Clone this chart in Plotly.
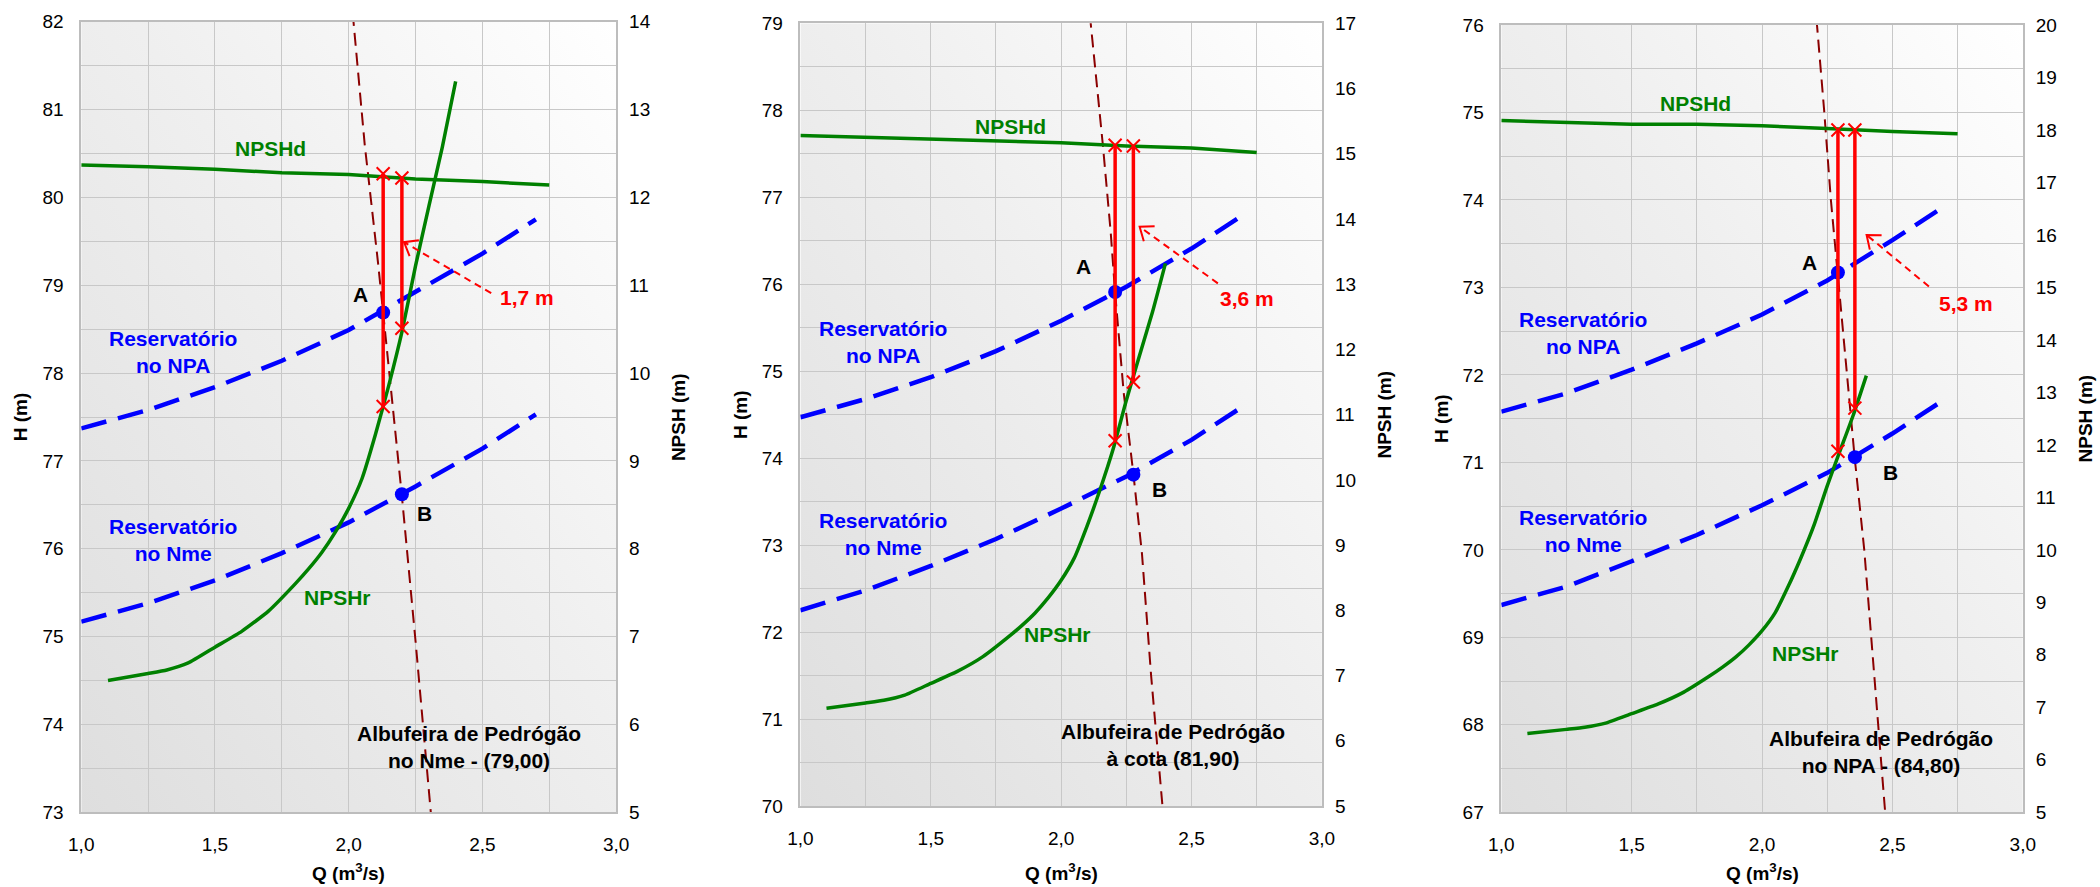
import base64
import math
import plotly.graph_objects as go

# ---------------- data ----------------
# system curves H(Q) on the left axis, Q in m3/s
q_sys = [1.0, 1.25, 1.5, 1.75, 2.0, 2.25, 2.5, 2.7]
h_npa_p1 = [77.37, 77.58, 77.84, 78.14, 78.49, 78.92, 79.36, 79.75]
h_nme_p1 = [75.17, 75.38, 75.64, 75.95, 76.30, 76.71, 77.14, 77.53]
h_npa_p2 = [74.47, 74.68, 74.93, 75.23, 75.58, 75.97, 76.41, 76.80]
h_nme_p2 = [72.25, 72.48, 72.76, 73.07, 73.42, 73.79, 74.21, 74.60]
h_npa_p3 = [71.58, 71.79, 72.06, 72.36, 72.69, 73.08, 73.54, 73.93]
h_nme_p3 = [69.37, 69.58, 69.87, 70.17, 70.51, 70.88, 71.33, 71.72]

# available NPSH (right axis)
q_npshd = [1.0, 1.25, 1.5, 1.75, 2.0, 2.25, 2.5, 2.75]
npshd_p1 = [12.37, 12.35, 12.32, 12.28, 12.26, 12.21, 12.18, 12.14]
npshd_p2 = [15.28, 15.25, 15.22, 15.20, 15.17, 15.12, 15.09, 15.02]
npshd_p3 = [18.18, 18.14, 18.11, 18.11, 18.08, 18.03, 17.97, 17.93]

# required NPSH of the pump (same in the three charts)
q_npshr = [1.10, 1.25, 1.32, 1.40, 1.50, 1.60, 1.70, 1.80, 1.85, 1.90, 1.95, 2.00,
           2.05, 2.10, 2.15, 2.20, 2.25, 2.30, 2.35, 2.40]
npshr = [6.50, 6.58, 6.62, 6.70, 6.88, 7.06, 7.29, 7.60, 7.77, 7.96, 8.19, 8.46,
         8.80, 9.30, 9.86, 10.48, 11.22, 11.90, 12.57, 13.32]

# pump curve (dark red dashed), left axis
q_pump_p1 = [2.015, 2.06, 2.11, 2.129, 2.17, 2.199, 2.25, 2.28, 2.31]
h_pump_p1 = [82.10, 80.60, 79.25, 78.68, 77.40, 76.60, 74.95, 73.95, 72.90]
q_pump_p2 = [2.11, 2.16, 2.19, 2.207, 2.24, 2.277, 2.31, 2.345, 2.39]
h_pump_p2 = [79.10, 77.60, 76.60, 75.90, 74.75, 73.82, 72.90, 71.50, 69.95]
q_pump_p3 = [2.209, 2.238, 2.264, 2.29, 2.324, 2.355, 2.392, 2.423, 2.474]
h_pump_p3 = [76.06, 75.03, 74.00, 73.17, 72.09, 71.06, 70.00, 68.82, 66.93]

# operating points A (NPA) and B (Nme)
pt_labels = ["A", "B"]
pt_q_p1 = [2.129, 2.199]
pt_h_p1 = [78.69, 76.62]
pt_q_p2 = [2.207, 2.277]
pt_h_p2 = [75.91, 73.81]
pt_q_p3 = [2.291, 2.356]
pt_h_p3 = [73.17, 71.06]

# NPSH margins (red verticals): NPSHd (top) and NPSHr (bottom)
red_top_p1 = [12.27, 12.22]
red_bot_p1 = [9.62, 10.51]
red_top_p2 = [15.13, 15.12]
red_bot_p2 = [10.60, 11.50]
red_top_p3 = [18.00, 18.00]
red_bot_p3 = [11.88, 12.70]

margin_labels = ["1,7 m", "3,6 m", "5,3 m"]
reservoir_labels = ["Albufeira de Pedrógão<br>no Nme - (79,00)",
                    "Albufeira de Pedrógão<br>à cota (81,90)",
                    "Albufeira de Pedrógão<br>no NPA - (84,80)"]
h_ranges = [(73, 82), (70, 79), (67, 76)]
npsh_ranges = [(5, 14), (5, 17), (5, 20)]

# ---------------- layout geometry / styles ----------------
W, H = 2100, 887
FONT = "Liberation Sans, Arial, sans-serif"
GREEN = "#008000"
BLUE = "#0000FF"
RED = "#FF0000"
DARKRED = "#8B0000"
GRID = "#c8c8c8"
X_RANGE = (1.0, 3.0)

px_boxes = [  # left, right, top, bottom in pixels
    (81.25, 616.1, 21.7, 812.3),
    (800.4, 1321.9, 23.3, 806.0),
    (1501.3, 2022.8, 25.0, 812.3),
]

# label positions (data coords) per panel
lbl = [
    dict(npshd=(1.706, 80.56), A=(2.045, 78.89), B=(2.282, 76.40),
         npa=(1.342, 78.24), nme=(1.342, 76.10), npshr=(1.96, 75.45),
         alb=(2.449, 73.74), marg=(2.666, 78.86),
         tail=(2.533, 78.91), tip=(2.207, 79.49)),
    dict(npshd=(1.805, 77.81), A=(2.087, 76.20), B=(2.378, 73.64),
         npa=(1.317, 75.33), nme=(1.317, 73.13), npshr=(1.985, 71.97),
         alb=(2.43, 70.70), marg=(2.712, 75.84),
         tail=(2.601, 76.01), tip=(2.301, 76.66)),
    dict(npshd=(1.745, 75.10), A=(2.182, 73.28), B=(2.491, 70.89),
         npa=(1.313, 72.48), nme=(1.313, 70.22), npshr=(2.166, 68.82),
         alb=(2.457, 67.69), marg=(2.783, 72.82),
         tail=(2.640, 73.01), tip=(2.401, 73.60)),
]

panels = [
    dict(npa=h_npa_p1, nme=h_nme_p1, npshd=npshd_p1, qp=q_pump_p1, hp=h_pump_p1,
         pq=pt_q_p1, ph=pt_h_p1, rt=red_top_p1, rb=red_bot_p1),
    dict(npa=h_npa_p2, nme=h_nme_p2, npshd=npshd_p2, qp=q_pump_p2, hp=h_pump_p2,
         pq=pt_q_p2, ph=pt_h_p2, rt=red_top_p2, rb=red_bot_p2),
    dict(npa=h_npa_p3, nme=h_nme_p3, npshd=npshd_p3, qp=q_pump_p3, hp=h_pump_p3,
         pq=pt_q_p3, ph=pt_h_p3, rt=red_top_p3, rb=red_bot_p3),
]

svg = ("<svg xmlns='http://www.w3.org/2000/svg' width='100' height='100' "
       "preserveAspectRatio='none'><defs><linearGradient id='g' x1='0' y1='1' x2='1' y2='0'>"
       "<stop offset='0' stop-color='#dedede'/><stop offset='0.55' stop-color='#efefef'/>"
       "<stop offset='1' stop-color='#ffffff'/></linearGradient></defs>"
       "<rect width='100' height='100' fill='url(#g)'/></svg>")
bg_uri = "data:image/svg+xml;base64," + base64.b64encode(svg.encode()).decode()

fig = go.Figure()
layout = dict(
    width=W, height=H, margin=dict(l=0, r=0, t=0, b=0, autoexpand=False),
    paper_bgcolor="white", plot_bgcolor="rgba(0,0,0,0)",
    showlegend=False, separators=",.",
    font=dict(family=FONT, color="black"),
)
annotations, shapes, images = [], [], []


def tfont(size, color="black", bold=True):
    return dict(family=FONT, size=size, color=color, weight="bold" if bold else "normal")


for i, (p, box, L) in enumerate(zip(panels, px_boxes, lbl)):
    xl, xr, yt, yb_ = box
    xd = [xl / W, xr / W]
    yd = [(H - yb_) / H, (H - yt) / H]
    n = i + 1
    xname = "x" if n == 1 else f"x{n}"
    hname = "y" if n == 1 else f"y{2 * n - 1}"
    nname = f"y{2 * n}"
    xkey = "xaxis" if n == 1 else f"xaxis{n}"
    hkey = "yaxis" if n == 1 else f"yaxis{2 * n - 1}"
    nkey = f"yaxis{2 * n}"
    h0, h1 = h_ranges[i]

    layout[xkey] = dict(
        domain=xd, range=list(X_RANGE), dtick=0.5, tick0=1, tickformat=".1f",
        anchor=hname, showgrid=True, gridcolor=GRID, gridwidth=1.3,
        minor=dict(dtick=0.25, showgrid=True, gridcolor=GRID, gridwidth=1.3),
        showline=True, linecolor="#bdbdbd", linewidth=1.5, mirror=True,
        ticks="", ticklabelstandoff=14, zeroline=False, automargin=False,
        tickfont=dict(family=FONT, size=19, color="black"), fixedrange=True,
    )
    layout[hkey] = dict(
        domain=yd, range=[h0, h1], dtick=1, anchor=xname,
        showgrid=True, gridcolor=GRID, gridwidth=1.3,
        minor=dict(dtick=0.5, showgrid=True, gridcolor=GRID, gridwidth=1.3),
        showline=True, linecolor="#bdbdbd", linewidth=1.5, mirror=True,
        ticks="", ticklabelstandoff=12, zeroline=False, automargin=False,
        tickfont=dict(family=FONT, size=19, color="black"), fixedrange=True,
    )
    layout[nkey] = dict(
        overlaying=hname, side="right", anchor=xname, range=list(npsh_ranges[i]),
        dtick=1, showgrid=False, showline=False, zeroline=False, ticks="",
        ticklabelstandoff=12, tickfont=dict(family=FONT, size=19, color="black"),
        fixedrange=True, automargin=False,
    )

    images.append(dict(source=bg_uri, xref="paper", yref="paper", x=xd[0], y=yd[1],
                       sizex=xd[1] - xd[0], sizey=yd[1] - yd[0], sizing="stretch",
                       xanchor="left", yanchor="top", layer="below"))

    # curves
    fig.add_trace(go.Scatter(x=q_npshd, y=p["npshd"], xaxis=xname, yaxis=nname, mode="lines",
                             line=dict(color=GREEN, width=3.5), hoverinfo="skip"))
    fig.add_trace(go.Scatter(x=q_npshr, y=npshr, xaxis=xname, yaxis=nname, mode="lines",
                             line=dict(color=GREEN, width=3.5, shape="spline", smoothing=0.5),
                             hoverinfo="skip"))
    for ys in (p["npa"], p["nme"]):
        fig.add_trace(go.Scatter(x=q_sys, y=ys, xaxis=xname, yaxis=hname, mode="lines",
                                 line=dict(color=BLUE, width=4.5, dash="26px,12px"),
                                 hoverinfo="skip"))
    fig.add_trace(go.Scatter(x=p["qp"], y=p["hp"], xaxis=xname, yaxis=hname, mode="lines",
                             line=dict(color=DARKRED, width=2, dash="13px,7px"),
                             hoverinfo="skip"))
    # red NPSH margins
    for q, t, b in zip(p["pq"], p["rt"], p["rb"]):
        fig.add_trace(go.Scatter(x=[q, q], y=[t, b], xaxis=xname, yaxis=nname,
                                 mode="lines+markers", line=dict(color=RED, width=3.5),
                                 marker=dict(symbol="x-thin", size=13,
                                             line=dict(color=RED, width=2)),
                                 hoverinfo="skip"))
    # operating points
    fig.add_trace(go.Scatter(x=p["pq"], y=p["ph"], xaxis=xname, yaxis=hname, mode="markers",
                             marker=dict(color=BLUE, size=14), hoverinfo="skip"))

    # texts
    def ann(pos, text, color, size=21):
        annotations.append(dict(x=pos[0], y=pos[1], xref=xname, yref=hname, text=text,
                                showarrow=False, font=tfont(size, color), align="center",
                                xanchor="center", yanchor="middle"))

    ann(L["npshd"], "NPSHd", GREEN)
    ann(L["npshr"], "NPSHr", GREEN)
    ann(L["A"], pt_labels[0], "black")
    ann(L["B"], pt_labels[1], "black")
    ann(L["npa"], "Reservatório<br>no NPA", BLUE)
    ann(L["nme"], "Reservatório<br>no Nme", BLUE)
    ann(L["alb"], reservoir_labels[i], "black")
    ann(L["marg"], margin_labels[i], RED)

    # dashed arrow towards the margin line, with an open "V" head
    (tx, ty), (hx, hy) = L["tail"], L["tip"]
    shapes.append(dict(type="line", xref=xname, yref=hname, x0=tx, y0=ty, x1=hx, y1=hy,
                       line=dict(color=RED, width=2, dash="7px,5px")))
    sx = (xr - xl) / (X_RANGE[1] - X_RANGE[0])   # px per Q unit
    sy = (yb_ - yt) / (h1 - h0)                  # px per H unit
    dx, dy = (tx - hx) * sx, -(ty - hy) * sy      # tip->tail in screen px (y down)
    ln = math.hypot(dx, dy)
    ux, uy = dx / ln, dy / ln
    arm, ang = 15.0, math.radians(38)
    pts = []
    for s in (1, -1):
        c, si = math.cos(s * ang), math.sin(s * ang)
        vx, vy = ux * c - uy * si, ux * si + uy * c
        pts.append((hx + vx * arm / sx, hy - vy * arm / sy))
    path = (f"M {pts[0][0]},{pts[0][1]} L {hx},{hy} L {pts[1][0]},{pts[1][1]}")
    shapes.append(dict(type="path", xref=xname, yref=hname, path=path,
                       line=dict(color=RED, width=2)))

    # axis titles
    xc = (xl + xr) / 2 / W
    yc = (H - (yt + yb_) / 2) / H
    annotations.append(dict(x=xc, y=(H - 872) / H, xref="paper", yref="paper",
                            xanchor="center", yanchor="middle",
                            text="Q (m<sup>3</sup>/s)", showarrow=False, font=tfont(19)))
    annotations.append(dict(x=(xl - 60) / W, y=yc, xref="paper", yref="paper",
                            xanchor="center", yanchor="middle",
                            text="H (m)", textangle=-90, showarrow=False, font=tfont(19)))
    annotations.append(dict(x=(xr + 63) / W, y=yc, xref="paper", yref="paper",
                            xanchor="center", yanchor="middle",
                            text="NPSH (m)", textangle=-90, showarrow=False, font=tfont(19)))

layout["annotations"] = annotations
layout["shapes"] = shapes
layout["images"] = images
fig.update_layout(**layout)

fig.write_html("out.html", config={"displayModeBar": False},
               post_script="document.body.style.margin='0';document.body.style.overflow='hidden';")
